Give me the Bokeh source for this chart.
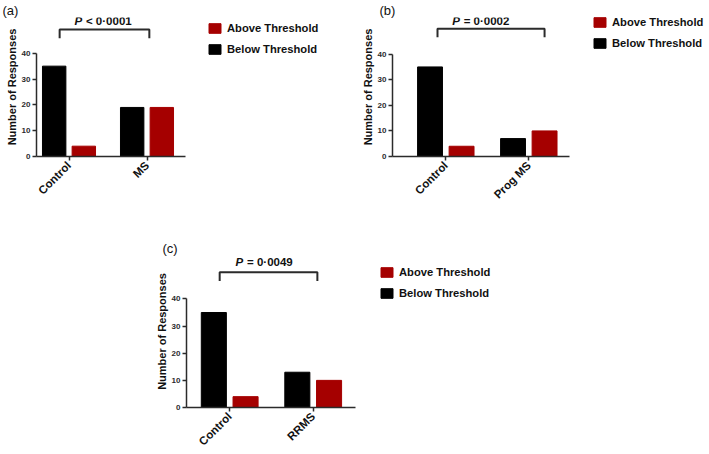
import math
from bokeh.plotting import figure
from bokeh.models import Range1d, FixedTicker, Legend, LegendItem, Label, Spacer, Title
from bokeh.layouts import column, row
from bokeh.embed import file_html
from bokeh.resources import INLINE

# ---------------- data ----------------
cats_a = ["Control", "MS"]
below_a = [35, 19]
above_a = [4, 19]

cats_b = ["Control", "Prog MS"]
below_b = [35, 7]
above_b = [4, 10]

cats_c = ["Control", "RRMS"]
below_c = [35, 13]
above_c = [4, 10]

y_ticks = [0, 10, 20, 30, 40]
panel_tags = ["(a)", "(b)", "(c)"]
p_values = ["< 0·0001", "= 0·0002", "= 0·0049"]
legend_labels = ["Above Threshold", "Below Threshold"]
y_label = "Number of Responses"

# ---------------- style ----------------
RED = "#A50000"
BLACK = "#000000"
AX = "#2b2b2b"
FONT = "Liberation Sans"
BAR_W = 0.3
OFF = 0.19
TOP = 16  # band above the frame holding the panel tag


def make_panel(cats, below, above, pval, tag, W, H, bl, bb, cx, ppu, gap_r,
               y40, leg, br_l, br_r, br_top, br_end, p_x, p_y, tag_off):
    fw = W - bl
    fh = H - bb - TOP
    y40f = y40 - TOP
    x0 = 1 - cx / ppu
    x1 = x0 + fw / ppu
    upp = 40.0 / (fh - y40f)
    ymax = 40 + y40f * upp

    title = Title(text=tag, align="left", offset=tag_off, standoff=0,
                  text_font=FONT, text_font_size="13px", text_font_style="normal",
                  text_color="#111111")
    p = figure(width=W, height=H, output_backend="svg", toolbar_location=None,
               x_range=Range1d(x0, x1), y_range=Range1d(0, ymax), title=title,
               min_border_left=bl, min_border_right=0, min_border_top=TOP,
               min_border_bottom=bb)
    p.outline_line_color = None
    p.xgrid.visible = False
    p.ygrid.visible = False
    p.background_fill_color = "white"
    p.border_fill_color = "white"

    xs = list(range(1, len(cats) + 1))
    rb = p.vbar(x=[x - OFF for x in xs], top=below, width=BAR_W, bottom=0,
                fill_color=BLACK, line_color=BLACK, line_width=1)
    ra = p.vbar(x=[x + OFF for x in xs], top=above, width=BAR_W, bottom=0,
                fill_color=RED, line_color=RED, line_width=1)

    # y axis
    ya = p.yaxis[0]
    ya.ticker = FixedTicker(ticks=y_ticks)
    ya.bounds = (0, 40)
    ya.minor_tick_line_color = None
    ya.major_tick_in = 0
    ya.major_tick_out = 4
    ya.axis_line_width = 1.5
    ya.axis_line_color = AX
    ya.major_tick_line_color = AX
    ya.major_tick_line_width = 1.5
    ya.major_label_text_font = FONT
    ya.major_label_text_font_style = "bold"
    ya.major_label_text_font_size = "8px"
    ya.major_label_text_color = AX
    ya.major_label_standoff = 2
    ya.axis_label = y_label
    ya.axis_label_text_font = FONT
    ya.axis_label_text_font_style = "bold"
    ya.axis_label_text_font_size = "11px"
    ya.axis_label_text_color = "#111111"
    ya.axis_label_standoff = 1

    # x axis
    xa = p.xaxis[0]
    xa.ticker = FixedTicker(ticks=xs)
    xa.major_label_overrides = {x: c for x, c in zip(xs, cats)}
    xa.bounds = (x0, 2 + gap_r / ppu)
    xa.minor_tick_line_color = None
    xa.major_tick_in = 0
    xa.major_tick_out = 4
    xa.axis_line_width = 1.5
    xa.axis_line_color = AX
    xa.major_tick_line_color = AX
    xa.major_tick_line_width = 1.5
    xa.major_label_orientation = math.pi / 4
    xa.major_label_text_font = FONT
    xa.major_label_text_font_style = "bold"
    xa.major_label_text_font_size = "11.5px"
    xa.major_label_text_color = "#111111"
    xa.major_label_standoff = 3

    # legend
    legend = Legend(items=[LegendItem(label=legend_labels[0], renderers=[ra]),
                           LegendItem(label=legend_labels[1], renderers=[rb])],
                    location=(leg[0], fh - (leg[1] - TOP)))
    legend.glyph_width = 15
    legend.glyph_height = 12
    legend.label_height = 12
    legend.spacing = 9
    legend.padding = 0
    legend.margin = 0
    legend.label_standoff = 5
    legend.border_line_color = None
    legend.background_fill_alpha = 0
    legend.label_text_font = FONT
    legend.label_text_font_style = "bold"
    legend.label_text_font_size = "11.2px"
    legend.label_text_color = "#111111"
    legend.label_text_baseline = "middle"
    p.add_layout(legend)

    # significance bracket
    def ypx(px):
        return 40 + (y40 - px) * upp
    bx = [1 + br_l, 1 + br_l, 2 + br_r, 2 + br_r]
    by = [ypx(br_end), ypx(br_top), ypx(br_top), ypx(br_end)]
    p.line(bx, by, line_color=AX, line_width=2)

    p.add_layout(Label(x=p_x, y=ypx(p_y), text="P", text_font=FONT,
                       text_font_style="bold italic", text_font_size="11.5px",
                       text_color="#111111", text_baseline="middle",
                       text_align="left"))
    p.add_layout(Label(x=p_x, x_offset=11.5, y=ypx(p_y), text=pval, text_font=FONT,
                       text_font_style="bold", text_font_size="11.5px",
                       text_color="#111111", text_baseline="middle",
                       text_align="left"))
    return p


pa = make_panel(cats_a, below_a, above_a, p_values[0], panel_tags[0],
                W=350, H=238, bl=36, bb=82, cx=32.5, ppu=78, gap_r=38.5,
                y40=52, leg=(171, 55), br_l=-0.12, br_r=0.03, br_top=28, br_end=37,
                p_x=1.07, p_y=20, tag_off=-34)

pb = make_panel(cats_b, below_b, above_b, p_values[1], panel_tags[1],
                W=359, H=238, bl=42, bb=74, cx=53.3, ppu=83, gap_r=40.7,
                y40=55, leg=(200, 57), br_l=-0.10, br_r=0.19, br_top=28, br_end=37,
                p_x=1.077, p_y=20, tag_off=-13)

pc = make_panel(cats_c, below_c, above_c, p_values[2], panel_tags[2],
                W=364, H=216, bl=40, bb=45, cx=43.2, ppu=83.5, gap_r=42.3,
                y40=60.3, leg=(193, 63), br_l=-0.12, br_r=0.05, br_top=33, br_end=42,
                p_x=1.07, p_y=23, tag_off=-24)

layout = column(row(pa, pb), row(Spacer(width=146, height=216), pc))

open("out.html", "w").write(file_html(layout, INLINE))
